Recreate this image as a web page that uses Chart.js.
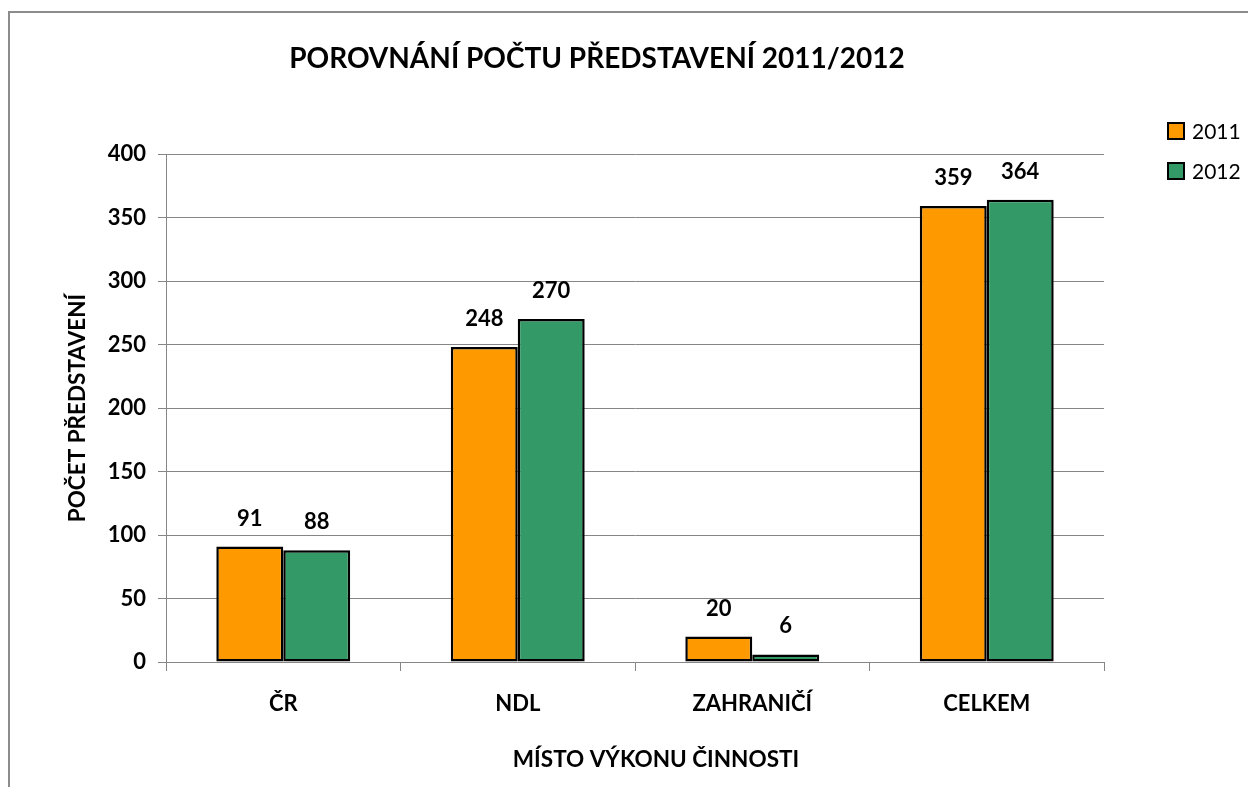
<!DOCTYPE html>
<html>
<head>
<meta charset="utf-8">
<script src="https://cdn.jsdelivr.net/npm/chart.js@4"></script>
<style>
  html, body { margin: 0; padding: 0; background: #fff; overflow: hidden; }
  #wrap { position: relative; width: 1248px; height: 787px; }
</style>
</head>
<body>
<div id="wrap"><canvas id="chart" width="1248" height="787"></canvas></div>
<script>
// data
const categories = ["ČR", "NDL", "ZAHRANIČÍ", "CELKEM"];
const seriesNames = ["2011", "2012"];
const values2011 = [91, 248, 20, 359];
const values2012 = [88, 270, 6, 364];
const yTicks = [0, 50, 100, 150, 200, 250, 300, 350, 400];

const chartTitle = "POROVNÁNÍ POČTU PŘEDSTAVENÍ 2011/2012";
const xTitle = "MÍSTO VÝKONU ČINNOSTI";
const yTitle = "POČET PŘEDSTAVENÍ";

const colors = ["#FF9900", "#339966"];
const FONT = "Lato, Carlito, Calibri, sans-serif";

// frame, title, x title, value labels, legend
const decorPlugin = {
  id: "decor",
  beforeDraw(chart) {
    const ctx = chart.ctx;
    ctx.save();
    ctx.strokeStyle = "#8c8c8c";
    ctx.lineWidth = 2;
    ctx.strokeRect(9, 12, 1400, 900);
    ctx.restore();
  },
  afterDatasetsDraw(chart) {
    const ctx = chart.ctx;
    const area = chart.chartArea;
    ctx.save();
    ctx.fillStyle = "#000";
    ctx.textAlign = "center";
    ctx.textBaseline = "middle";

    ctx.font = "bold 28px " + FONT;
    ctx.fillText(chartTitle, 597, 59);

    ctx.font = "bold 22.5px " + FONT;
    ctx.fillText(xTitle, 656, 760);

    // value labels above bars
    ctx.font = "bold 22px " + FONT;
    chart.data.datasets.forEach((ds, i) => {
      chart.getDatasetMeta(i).data.forEach((bar, j) => {
        ctx.fillText(String(ds.data[j]), bar.x, bar.y - 28);
      });
    });

    // legend
    ctx.textAlign = "left";
    ctx.font = "21px " + FONT;
    chart.data.datasets.forEach((ds, i) => {
      const y = 131 + i * 40;
      ctx.fillStyle = ds.backgroundColor;
      ctx.fillRect(area.right + 64, y - 8, 16, 16);
      ctx.strokeStyle = "#000";
      ctx.lineWidth = 2;
      ctx.strokeRect(area.right + 64, y - 8, 16, 16);
      ctx.fillStyle = "#000";
      ctx.fillText(ds.label, area.right + 88, y + 1);
    });
    ctx.restore();
  }
};

new Chart(document.getElementById("chart"), {
  type: "bar",
  data: {
    labels: categories,
    datasets: [
      { label: seriesNames[0], data: values2011, backgroundColor: colors[0] },
      { label: seriesNames[1], data: values2012, backgroundColor: colors[1] }
    ].map(d => Object.assign(d, {
      borderColor: "#000",
      borderWidth: 2.5,
      borderSkipped: false,
      categoryPercentage: 0.571,
      barPercentage: 1.0
    }))
  },
  options: {
    responsive: false,
    animation: false,
    layout: { padding: { top: 154, right: 144, left: 0, bottom: 0 } },
    plugins: {
      legend: { display: false },
      title: { display: false },
      tooltip: { enabled: false }
    },
    scales: {
      x: {
        afterFit(scale) { scale.height = 125; },
        grid: {
          drawOnChartArea: false,
          drawTicks: true,
          tickLength: 9,
          color: "#868686",
          lineWidth: 1
        },
        border: { color: "#868686", width: 1 },
        ticks: {
          color: "#000",
          padding: 20,
          font: { family: FONT, size: 22, weight: "bold" }
        }
      },
      y: {
        min: 0,
        max: 400,
        afterFit(scale) { scale.width = 166; },
        afterBuildTicks(scale) { scale.ticks = yTicks.map(v => ({ value: v })); },
        grid: { color: "#868686", lineWidth: 1, tickLength: 8 },
        border: { color: "#868686", width: 1 },
        ticks: {
          color: "#000",
          padding: 12,
          font: { family: FONT, size: 22, weight: "bold" }
        },
        title: {
          display: true,
          text: yTitle,
          color: "#000",
          padding: { top: 64, bottom: 0 },
          font: { family: FONT, size: 22.5, weight: "bold" }
        }
      }
    }
  },
  plugins: [decorPlugin]
});
</script>
</body>
</html>
